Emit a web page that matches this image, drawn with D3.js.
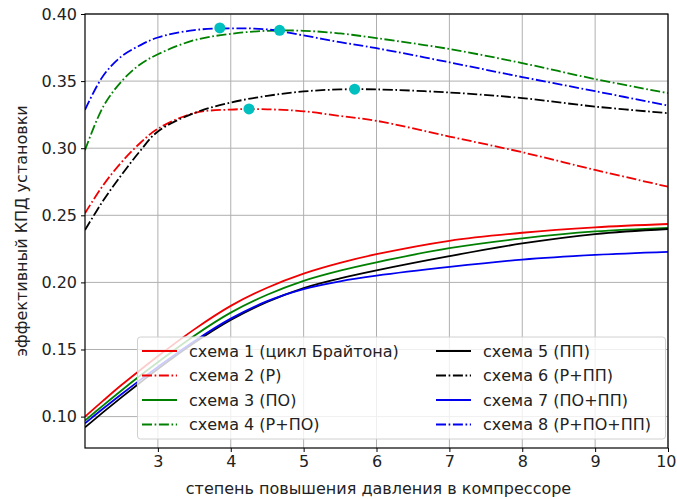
<!DOCTYPE html>
<html>
<head>
<meta charset="utf-8">
<script src="https://cdn.jsdelivr.net/npm/d3@7"></script>
<style>
  html, body { margin: 0; padding: 0; background: #fff; }
  svg { display: block; font-family: "DejaVu Sans", sans-serif; }
</style>
</head>
<body>
<svg id="chart" width="677" height="499"></svg>
<script>
// ---- data ----
const xValues = [2, 2.25, 2.5, 2.75, 3, 3.5, 4, 4.5, 5, 5.5, 6, 7, 8, 9, 10];

const scheme1 = [0.1000, 0.1119, 0.1235, 0.1344, 0.1450, 0.1650, 0.1825, 0.1960, 0.2065, 0.2145, 0.2210, 0.2310, 0.2370, 0.2410, 0.2435];
const scheme2 = [0.2515, 0.2725, 0.2895, 0.3035, 0.3145, 0.3262, 0.3288, 0.3290, 0.3275, 0.3240, 0.3204, 0.3087, 0.2970, 0.2838, 0.2713];
const scheme3 = [0.0970, 0.1084, 0.1195, 0.1302, 0.1405, 0.1603, 0.1775, 0.1908, 0.2012, 0.2088, 0.2150, 0.2255, 0.2328, 0.2380, 0.2407];
const scheme4 = [0.2985, 0.3310, 0.3497, 0.3622, 0.3700, 0.3805, 0.3852, 0.3875, 0.3875, 0.3855, 0.3820, 0.3739, 0.3634, 0.3515, 0.3410];
const scheme5 = [0.0920, 0.1033, 0.1143, 0.1250, 0.1355, 0.1550, 0.1720, 0.1855, 0.1958, 0.2030, 0.2090, 0.2196, 0.2290, 0.2360, 0.2398];
const scheme6 = [0.2390, 0.2610, 0.2800, 0.2975, 0.3125, 0.3262, 0.3340, 0.3390, 0.3423, 0.3438, 0.3438, 0.3415, 0.3373, 0.3310, 0.3261];
const scheme7 = [0.0950, 0.1060, 0.1167, 0.1270, 0.1370, 0.1562, 0.1730, 0.1860, 0.1950, 0.2008, 0.2050, 0.2115, 0.2170, 0.2205, 0.2228];
const scheme8 = [0.3286, 0.3540, 0.3684, 0.3765, 0.3825, 0.3880, 0.3893, 0.3885, 0.3840, 0.3790, 0.3745, 0.3640, 0.3530, 0.3425, 0.3318];

const seriesNames = ["схема 1 (цикл Брайтона)", "схема 2 (Р)", "схема 3 (ПО)", "схема 4 (Р+ПО)",
                     "схема 5 (ПП)", "схема 6 (Р+ПП)", "схема 7 (ПО+ПП)", "схема 8 (Р+ПО+ПП)"];
const seriesValues = [scheme1, scheme2, scheme3, scheme4, scheme5, scheme6, scheme7, scheme8];
const seriesColors = ["#f00000", "#f00000", "#008000", "#008000", "#000000", "#000000", "#0000f0", "#0000f0"];
const seriesDashed = [false, true, false, true, false, true, false, true];

// maxima markers
const markerX = [4.25, 4.67, 5.7, 3.85];
const markerY = [0.3293, 0.3878, 0.3440, 0.3896];

const xTicks = [3, 4, 5, 6, 7, 8, 9, 10];
const yTicks = [0.10, 0.15, 0.20, 0.25, 0.30, 0.35, 0.40];
const xLabel = "степень повышения давления в компрессоре";
const yLabel = "эффективный КПД установки";

// ---- layout ----
const svg = d3.select("#chart");
const mLeft = 85, mRight = 668, mTop = 14, mBottom = 448;

const x = d3.scaleLinear().domain([2, 10]).range([mLeft, mRight]);
const y = d3.scaleLinear().domain([0.0766, 0.40]).range([mBottom, mTop]);

// grid
const grid = svg.append("g");
grid.selectAll(".gx").data(xTicks).enter().append("line")
  .attr("x1", d => x(d)).attr("x2", d => x(d)).attr("y1", mTop).attr("y2", mBottom)
  .attr("stroke", "#b0b0b0").attr("stroke-width", 1);
grid.selectAll(".gy").data(yTicks).enter().append("line")
  .attr("y1", d => y(d)).attr("y2", d => y(d)).attr("x1", mLeft).attr("x2", mRight)
  .attr("stroke", "#b0b0b0").attr("stroke-width", 1);

// clip
svg.append("clipPath").attr("id", "clip").append("rect")
  .attr("x", mLeft).attr("y", mTop).attr("width", mRight - mLeft).attr("height", mBottom - mTop);

const line = d3.line().x(d => x(d[0])).y(d => y(d[1])).curve(d3.curveCatmullRom.alpha(0.5));
const plot = svg.append("g").attr("clip-path", "url(#clip)");

const dashPattern = "10,2.6,1.7,2.6";

seriesValues.forEach((vals, i) => {
  const pts = xValues.map((xv, j) => [xv, vals[j]]);
  plot.append("path").datum(pts)
    .attr("d", line)
    .attr("fill", "none")
    .attr("stroke", seriesColors[i])
    .attr("stroke-width", 1.8)
    .attr("stroke-dasharray", seriesDashed[i] ? dashPattern : null);
});

plot.selectAll(".mk").data(markerX.map((mx, i) => [mx, markerY[i]])).enter().append("circle")
  .attr("cx", d => x(d[0])).attr("cy", d => y(d[1])).attr("r", 5.5)
  .attr("fill", "#00bfbf");

// axes
const xAxis = d3.axisBottom(x).tickValues(xTicks).tickSize(4).tickPadding(4).tickFormat(d3.format("d"));
const yAxis = d3.axisLeft(y).tickValues(yTicks).tickSize(4).tickPadding(4).tickFormat(d3.format(".2f"));

const gx = svg.append("g").attr("transform", `translate(0,${mBottom})`).call(xAxis);
const gy = svg.append("g").attr("transform", `translate(${mLeft},0)`).call(yAxis);
[gx, gy].forEach(g => {
  g.select(".domain").remove();
  g.selectAll("text").attr("font-size", 16).attr("fill", "#222").attr("font-family", "DejaVu Sans");
  g.selectAll("line").attr("stroke", "#000");
});
// keep last x tick label inside the window
gx.selectAll(".tick text").filter(d => d === 10).attr("text-anchor", "end").attr("x", 8);

// frame
svg.append("rect").attr("x", mLeft).attr("y", mTop).attr("width", mRight - mLeft).attr("height", mBottom - mTop)
  .attr("fill", "none").attr("stroke", "#000").attr("stroke-width", 1.2);

// axis labels
svg.append("text").attr("x", (mLeft + mRight) / 2 + 2).attr("y", 494)
  .attr("text-anchor", "middle").attr("font-size", 16).attr("fill", "#222").text(xLabel);
svg.append("text").attr("transform", `translate(27,${(mTop + mBottom) / 2}) rotate(-90)`)
  .attr("text-anchor", "middle").attr("font-size", 16).attr("fill", "#222").text(yLabel);

// legend
const lg = svg.append("g");
lg.append("rect").attr("x", 137.5).attr("y", 337).attr("width", 528).attr("height", 102)
  .attr("rx", 3).attr("fill", "rgba(255,255,255,0.8)").attr("stroke", "#d0d0d0");
seriesNames.forEach((name, i) => {
  const col = Math.floor(i / 4), row = i % 4;
  const hx = col === 0 ? 142 : 436;
  const ty = 351 + row * 24.5;
  lg.append("line").attr("x1", hx).attr("x2", hx + 35).attr("y1", ty).attr("y2", ty)
    .attr("stroke", seriesColors[i]).attr("stroke-width", 1.8)
    .attr("stroke-dasharray", seriesDashed[i] ? dashPattern : null);
  lg.append("text").attr("x", hx + 47).attr("y", ty).attr("dy", "0.35em")
    .attr("font-size", 16).attr("fill", "#222").text(name);
});
</script>
</body>
</html>
